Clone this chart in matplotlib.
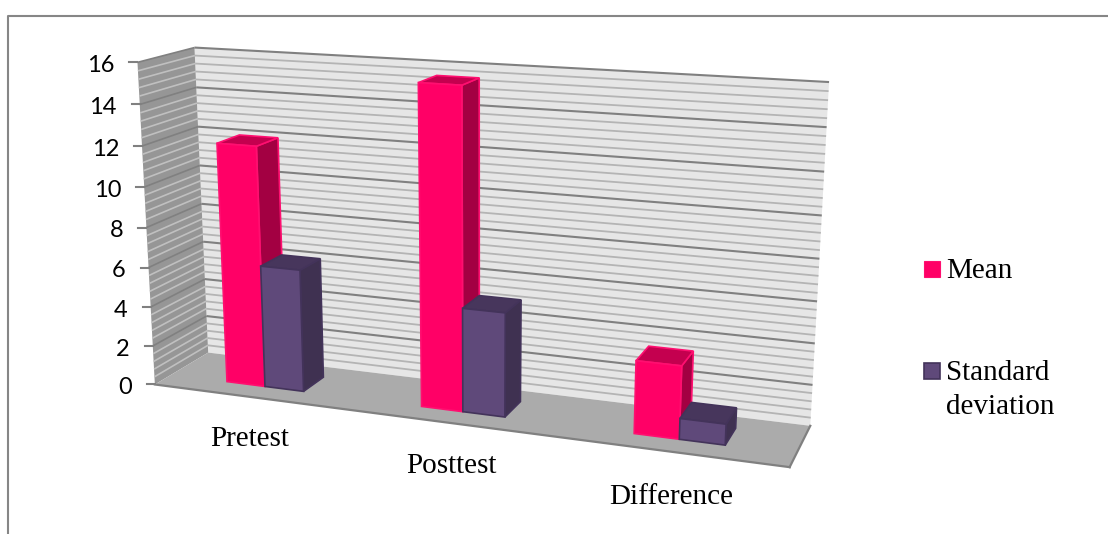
import numpy as np
from matplotlib import pyplot as plt
from matplotlib.patches import Polygon

categories = ["Pretest", "Posttest", "Difference"]
mean_values = [12.05, 15.55, 3.5]
sd_values = [6.15, 5.1, 1.0]
series_names = ["Mean", "Standard\ndeviation"]
y_ticks = [0, 2, 4, 6, 8, 10, 12, 14, 16]

WIDTH, HEIGHT = 1108, 534
Y_MAX = 16.0
MINOR_STEP = 0.4

# corners of the chart box as (across, value, depth) -> pixel
BOX_CORNERS = [
    ((0, 0, 0), (155, 384)),
    ((0, 16, 0), (137, 63)),
    ((1, 0, 0), (790, 467)),
    ((0, 0, 1), (208, 353)),
    ((0, 16, 1), (195, 47)),
    ((1, 0, 1), (810, 426)),
    ((1, 16, 1), (829, 82)),
]

BAR_WIDTH = 0.067
GROUP_CENTRES = [0.167, 0.499, 0.832]
BAR_DEPTH = (0.30, 0.72)

PINK = dict(front="#FF0066", side="#A30042", top="#C4004F", edge="#FF0F70")
PURPLE = dict(front="#5F497A", side="#3F3151", top="#47365C", edge="#43335A")


def fit_camera(corners):
    rows = []
    for (u, v, w), (px, py) in corners:
        v = v / Y_MAX
        rows.append([u, v, w, 1, 0, 0, 0, 0, -px * u, -px * v, -px * w, -px])
        rows.append([0, 0, 0, 0, u, v, w, 1, -py * u, -py * v, -py * w, -py])
    _, _, vt = np.linalg.svd(np.array(rows, dtype=float))
    return vt[-1].reshape(3, 4)


CAMERA = fit_camera(BOX_CORNERS)


def project(u, value, w):
    x, y, s = CAMERA @ np.array([u, value / Y_MAX, w, 1.0])
    return x / s, y / s


def quad(ax, points, face, edge=None, lw=0.0, zorder=1):
    ax.add_patch(Polygon([project(*p) for p in points], closed=True, facecolor=face,
                         edgecolor=edge if edge else face, linewidth=lw, zorder=zorder))


def draw_walls(ax):
    quad(ax, [(0, 0, 1), (1, 0, 1), (1, Y_MAX, 1), (0, Y_MAX, 1)], "#E6E6E6")
    quad(ax, [(0, 0, 0), (0, 0, 1), (0, Y_MAX, 1), (0, Y_MAX, 0)], "#969696")
    quad(ax, [(0, 0, 0), (1, 0, 0), (1, 0, 1), (0, 0, 1)], "#ABABAB")

    for k in range(int(round(Y_MAX / MINOR_STEP)) + 1):
        value = k * MINOR_STEP
        major = k % 5 == 0
        back = [project(0, value, 1), project(1, value, 1)]
        side = [project(0, value, 0), project(0, value, 1)]
        if k > 0:
            ax.plot(*zip(*back), color="#808080" if major else "#B4B4B4",
                    lw=1.5 if major else 1.3, zorder=2, solid_capstyle="butt")
            ax.plot(*zip(*side), color="#808080" if major else "#C0C0C0",
                    lw=1.2, zorder=2, solid_capstyle="butt")

    # floor outline, heavier along the front edge
    for a, b in [((0, 0, 0), (1, 0, 0)), ((1, 0, 0), (1, 0, 1))]:
        ax.plot(*zip(project(*a), project(*b)), color="#808080", lw=1.6, zorder=2)


def draw_bar(ax, u0, u1, value, colours, zorder):
    w0, w1 = BAR_DEPTH
    lw = 1.2
    quad(ax, [(u1, 0, w0), (u1, 0, w1), (u1, value, w1), (u1, value, w0)],
         colours["side"], colours["edge"], lw, zorder)
    quad(ax, [(u0, value, w0), (u1, value, w0), (u1, value, w1), (u0, value, w1)],
         colours["top"], colours["edge"], lw, zorder)
    quad(ax, [(u0, 0, w0), (u1, 0, w0), (u1, value, w0), (u0, value, w0)],
         colours["front"], colours["edge"], lw, zorder)


def draw_y_axis(ax):
    for tick in y_ticks:
        x, y = project(0, tick, 0)
        ax.plot([x - 8, x], [y, y], color="#808080", lw=1.5, zorder=2)
        ax.text(x - 23, y + 3, str(tick), ha="right", va="center",
                family="Lato", fontsize=17, color="black")


def draw_legend(ax):
    serif = dict(family="Liberation Serif", fontsize=21, color="black")
    ax.add_patch(Polygon([(924, 260.5), (940, 260.5), (940, 276.5), (924, 276.5)],
                         facecolor=PINK["front"], edgecolor=PINK["edge"], lw=0.8))
    ax.text(946, 271, series_names[0], va="center", **serif)
    ax.add_patch(Polygon([(924, 362.5), (940, 362.5), (940, 378.5), (924, 378.5)],
                         facecolor=PURPLE["front"], edgecolor=PURPLE["edge"], lw=1.2))
    ax.text(946, 390, series_names[1], va="center", linespacing=1.38, **serif)


fig = plt.figure(figsize=(WIDTH / 100, HEIGHT / 100), dpi=100)
ax = fig.add_axes([0, 0, 1, 1])
ax.set_xlim(0, WIDTH)
ax.set_ylim(HEIGHT, 0)
ax.axis("off")

# outer frame: only the top and left edges fall inside the canvas
ax.plot([8, 8, WIDTH], [HEIGHT, 16, 16], color="#868686", lw=1.5, zorder=1)

draw_walls(ax)
draw_y_axis(ax)

for i, centre in enumerate(GROUP_CENTRES):
    draw_bar(ax, centre - BAR_WIDTH, centre, mean_values[i], PINK, 3 + 2 * i)
    draw_bar(ax, centre, centre + BAR_WIDTH, sd_values[i], PURPLE, 4 + 2 * i)

label_positions = [(250, 439), (451, 466), (671, 497)]
for name, (x, y) in zip(categories, label_positions):
    ax.text(x, y, name, ha="center", va="center", family="Liberation Serif",
            fontsize=21, color="black")

draw_legend(ax)

fig.savefig("out.png", dpi=100)
